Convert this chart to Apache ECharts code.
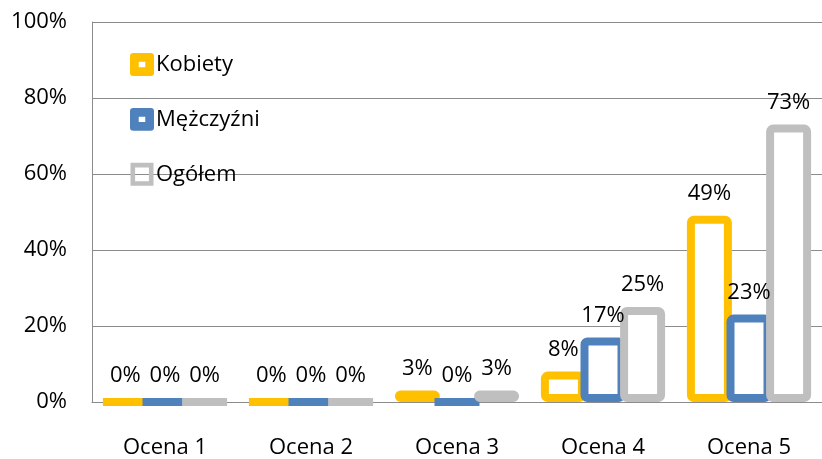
<!DOCTYPE html>
<html>
<head>
<meta charset="utf-8">
<script src="https://cdn.jsdelivr.net/npm/echarts@6/dist/echarts.min.js"></script>
<style>
  html, body { margin: 0; padding: 0; background: #fff; }
  #chart { width: 822px; height: 459px; }
</style>
</head>
<body>
<div id="chart"></div>
<script>
// Rating categories and share of answers (%) per group
const categories = ['Ocena 1', 'Ocena 2', 'Ocena 3', 'Ocena 4', 'Ocena 5'];
const kobiety = [0, 0, 3, 8, 49];
const mezczyzni = [0, 0, 0, 17, 23];
const ogolem = [0, 0, 3, 25, 73];
const yTicks = [0, 20, 40, 60, 80, 100];

const FONT = '"Open Sans", sans-serif';
const AXIS_GRAY = '#8c8c8c';
const COLORS = ['#FFC000', '#4F81BD', '#BFBFBF'];

// Legend keys: thick frame with a small hole in the middle
const ICON_THICK = 'path://M3 0H19Q22 0 22 3V18Q22 21 19 21H3Q0 21 0 18V3Q0 0 3 0ZM8 8V13H14V8Z';
const ICON_THIN = 'path://M0 0H20V20H0ZM4 4V16H16V4Z';

// Hollow bar: white fill with a thick coloured outline; neighbours overlap slightly
function outlinedBar(name, data, color) {
  return {
    name: name,
    type: 'bar',
    data: data,
    barWidth: 45,
    barGap: '-12%',
    itemStyle: {
      color: '#ffffff',
      borderColor: color,
      borderWidth: 8,
      borderRadius: 3
    },
    label: {
      show: true,
      position: 'top',
      distance: 11,
      formatter: '{c}%',
      fontFamily: FONT,
      fontSize: 22,
      color: '#000'
    }
  };
}

const chart = echarts.init(document.getElementById('chart'), null, { renderer: 'canvas' });
chart.setOption({
  animation: false,
  backgroundColor: '#ffffff',
  textStyle: { fontFamily: FONT },
  grid: { left: 92, right: 0, top: 22, bottom: 57, containLabel: false },
  legend: {
    orient: 'vertical',
    left: 125,
    top: 48,
    itemWidth: 24,
    itemHeight: 23,
    itemGap: 32,
    textStyle: { fontFamily: FONT, fontSize: 22, color: '#000', padding: [0, 0, 0, -3] },
    data: [
      { name: 'Kobiety', icon: ICON_THICK, itemStyle: { color: COLORS[0], borderWidth: 0 } },
      { name: 'Mężczyźni', icon: ICON_THICK, itemStyle: { color: COLORS[1], borderWidth: 0 } },
      { name: 'Ogółem', icon: ICON_THIN, itemStyle: { color: COLORS[2], borderWidth: 0 } }
    ]
  },
  xAxis: {
    type: 'category',
    data: categories,
    axisLine: { show: true, lineStyle: { color: AXIS_GRAY, width: 1 } },
    axisTick: { show: false },
    axisLabel: { margin: 35, fontFamily: FONT, fontSize: 22, color: '#000' }
  },
  yAxis: {
    type: 'value',
    min: yTicks[0],
    max: yTicks[yTicks.length - 1],
    interval: yTicks[1] - yTicks[0],
    axisLine: { show: true, lineStyle: { color: AXIS_GRAY, width: 1 } },
    axisTick: { show: false },
    splitLine: { show: true, lineStyle: { color: AXIS_GRAY, width: 1 } },
    axisLabel: { margin: 25, fontFamily: FONT, fontSize: 22, color: '#000', formatter: '{value}%' }
  },
  series: [
    outlinedBar('Kobiety', kobiety, COLORS[0]),
    outlinedBar('Mężczyźni', mezczyzni, COLORS[1]),
    outlinedBar('Ogółem', ogolem, COLORS[2])
  ]
});
</script>
</body>
</html>
